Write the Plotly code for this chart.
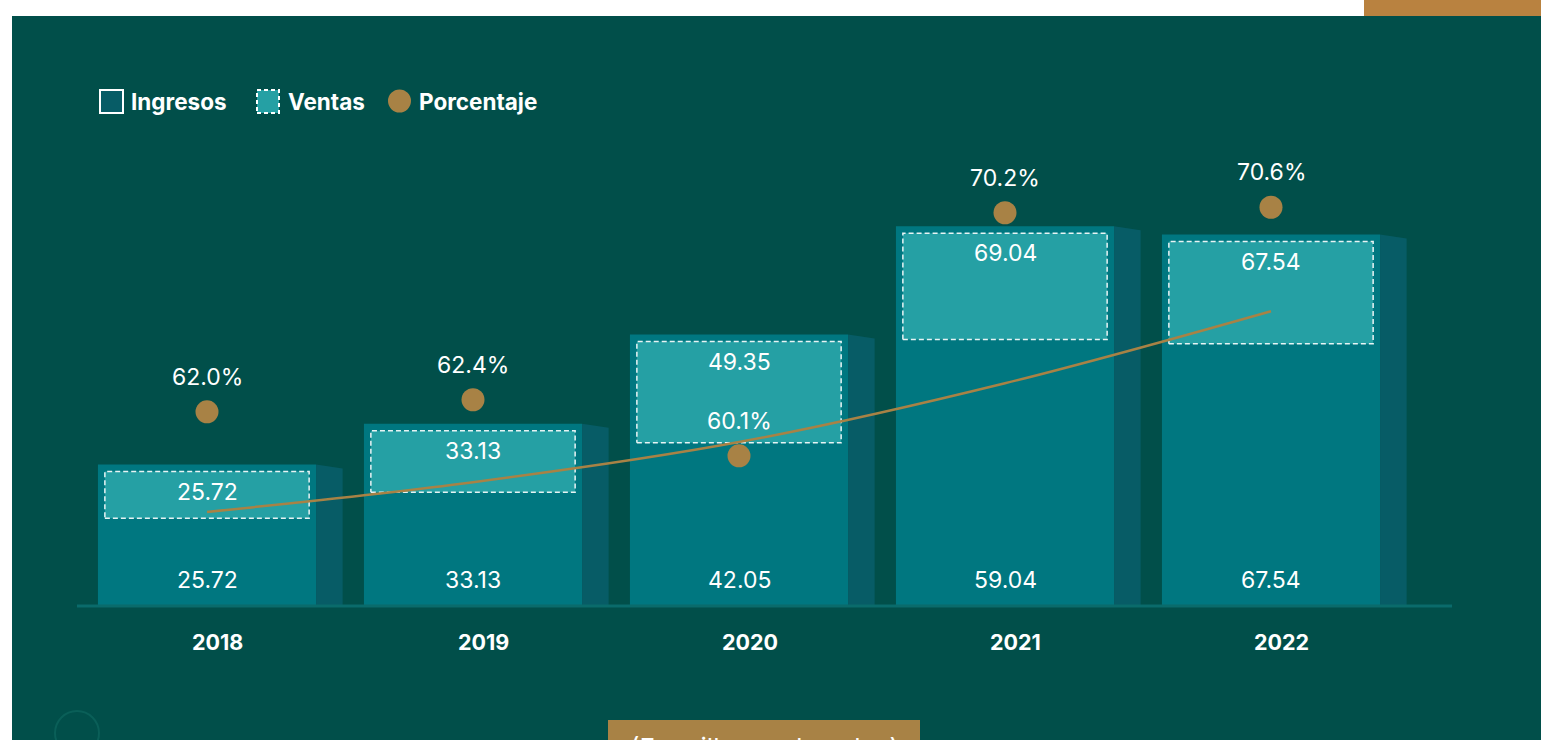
import plotly.graph_objects as go

# ---------------------------------------------------- data
years = ['2018', '2019', '2020', '2021', '2022']
ingresos = [25.72, 33.13, 42.05, 59.04, 67.54]
ventas = [25.72, 33.13, 49.35, 69.04, 67.54]
porcentaje = [62.0, 62.4, 60.1, 70.2, 70.6]
# height (chart units) where each percentage dot sits
nivel_pct = [35.3, 37.5, 27.3, 71.5, 72.5]
# orange curve
tendencia = [17.1, 22.5, 29.8, 40.5, 53.6]

# ---------------------------------------------------- page geometry
W, H = 1541, 740
X0_PX, UNIT_X = 207, 266
BASE_PX, UNIT_Y = 606, 5.5

BG = '#014f4a'
FRONT = '#007780'
SIDE = '#075c66'
BOX = '#25a0a4'
GOLD = '#a88245'
FONT = 'Inter'


def px(xr):
    return xr / W


def py(yr):
    return 1 - yr / H


xs = list(range(len(years)))
half = 0.41      # half width of the front face
depth = 0.10     # width of the side face
pad_x, pad_y = 0.026, 1.27

fig = go.Figure()

fig.add_trace(go.Bar(
    x=xs, y=ventas, width=2 * half,
    marker=dict(color=FRONT, line=dict(width=0)),
    hoverinfo='skip',
))

# side faces of the boxes
for i, v in zip(xs, ventas):
    xr = i + half
    fig.add_trace(go.Scatter(
        x=[xr, xr, xr + depth, xr + depth, xr],
        y=[0, v, v - 0.7, 0, 0],
        mode='lines', fill='toself', fillcolor=SIDE,
        line=dict(width=0, color=SIDE), hoverinfo='skip',
    ))

# dashed Ventas boxes: from ventas*pct up to the top of the bar
for i, v, p in zip(xs, ventas, porcentaje):
    x0, x1 = i - half + pad_x, i + half - pad_x
    y0, y1 = v * p / 100, v - pad_y
    fig.add_trace(go.Scatter(
        x=[x0, x1, x1, x0, x0],
        y=[y0, y0, y1, y1, y0],
        mode='lines', fill='toself', fillcolor=BOX,
        line=dict(color='rgba(255,255,255,0.9)', width=1.5, dash='5px,3px'),
        hoverinfo='skip',
    ))

fig.add_trace(go.Scatter(
    x=xs, y=tendencia, mode='lines',
    line=dict(color=GOLD, width=2.5, shape='spline'), hoverinfo='skip',
))

fig.add_trace(go.Scatter(
    x=xs, y=nivel_pct, mode='markers',
    marker=dict(size=23, color=GOLD, line=dict(width=0)), hoverinfo='skip',
))

num_font = dict(family=FONT, size=23, color='white')
annotations = []
for i in xs:
    annotations.append(dict(
        x=i, y=nivel_pct[i], yshift=35, text=f'{porcentaje[i]:.1f}%',
        showarrow=False, font=num_font))
    annotations.append(dict(
        x=i, y=ventas[i] - pad_y, yanchor='top', yshift=-4, text=f'{ventas[i]:.2f}',
        showarrow=False, font=num_font))
    annotations.append(dict(
        x=i, y=0, yshift=26, text=f'{ingresos[i]:.2f}',
        showarrow=False, font=num_font))
    annotations.append(dict(
        x=i + depth / 2 - 0.01, y=0, yshift=-36, text=f'<b>{years[i]}</b>',
        showarrow=False, font=dict(family=FONT, size=21.5, color='white')))

# legend
leg_font = dict(family=FONT, size=22.5, color='white')
annotations += [
    dict(xref='paper', yref='paper', x=px(129), y=py(101), xanchor='left', yanchor='middle',
         text='<b>Ingresos</b>', showarrow=False, font=leg_font),
    dict(xref='paper', yref='paper', x=px(286), y=py(101), xanchor='left', yanchor='middle',
         text='<b>Ventas</b>', showarrow=False, font=leg_font),
    dict(xref='paper', yref='paper', x=px(417), y=py(101), xanchor='left', yanchor='middle',
         text='<b>Porcentaje</b>', showarrow=False, font=leg_font),
    dict(xref='paper', yref='paper', x=px(764), y=py(730), xanchor='center', yanchor='top',
         text='(En millones de soles)', showarrow=False,
         font=dict(family=FONT, size=26, color='white')),
]

shapes = [
    # dark panel
    dict(type='rect', xref='paper', yref='paper', x0=px(12), x1=1, y0=0, y1=py(16),
         fillcolor=BG, line=dict(width=0), layer='below'),
    # top-right accent
    dict(type='rect', xref='paper', yref='paper', x0=px(1364), x1=1, y0=py(16), y1=1,
         fillcolor='#b98240', line=dict(width=0), layer='below'),
    # base line
    dict(type='line', x0=(77 - X0_PX) / UNIT_X, x1=(1452 - X0_PX) / UNIT_X, y0=0, y1=0,
         line=dict(color='#0a6b6b', width=3), layer='above'),
    # legend keys
    dict(type='rect', xref='paper', yref='paper', x0=px(100), x1=px(123), y0=py(113), y1=py(90),
         fillcolor=SIDE, line=dict(color='white', width=2)),
    dict(type='rect', xref='paper', yref='paper', x0=px(257), x1=px(279), y0=py(113), y1=py(90),
         fillcolor=BOX, line=dict(color='white', width=2, dash='4px,3px')),
    dict(type='circle', xref='paper', yref='paper', x0=px(388), x1=px(411), y0=py(112.5), y1=py(89.5),
         fillcolor=GOLD, line=dict(width=0)),
    # bottom decorations
    dict(type='circle', xref='paper', yref='paper', x0=px(55), x1=px(99), y0=py(755), y1=py(711),
         fillcolor='rgba(0,0,0,0)', line=dict(color='#0a5f58', width=2)),
    dict(type='rect', xref='paper', yref='paper', x0=px(608), x1=px(920), y0=py(745), y1=py(720),
         fillcolor=GOLD, line=dict(width=0), layer='below'),
]

fig.update_layout(
    width=W, height=H,
    margin=dict(l=0, r=0, t=0, b=0),
    paper_bgcolor='white',
    plot_bgcolor='rgba(0,0,0,0)',
    showlegend=False,
    hovermode=False,
    xaxis=dict(range=[-X0_PX / UNIT_X, (W - X0_PX) / UNIT_X], domain=[0, 1], visible=False, fixedrange=True),
    yaxis=dict(range=[-(H - BASE_PX) / UNIT_Y, BASE_PX / UNIT_Y], domain=[0, 1], visible=False, fixedrange=True),
    annotations=annotations,
    shapes=shapes,
)

# drop the browser's default body margin so the figure sits at the page corner
fig.write_html('out.html', config={'displayModeBar': False},
               post_script="document.body.style.margin = '0';")
